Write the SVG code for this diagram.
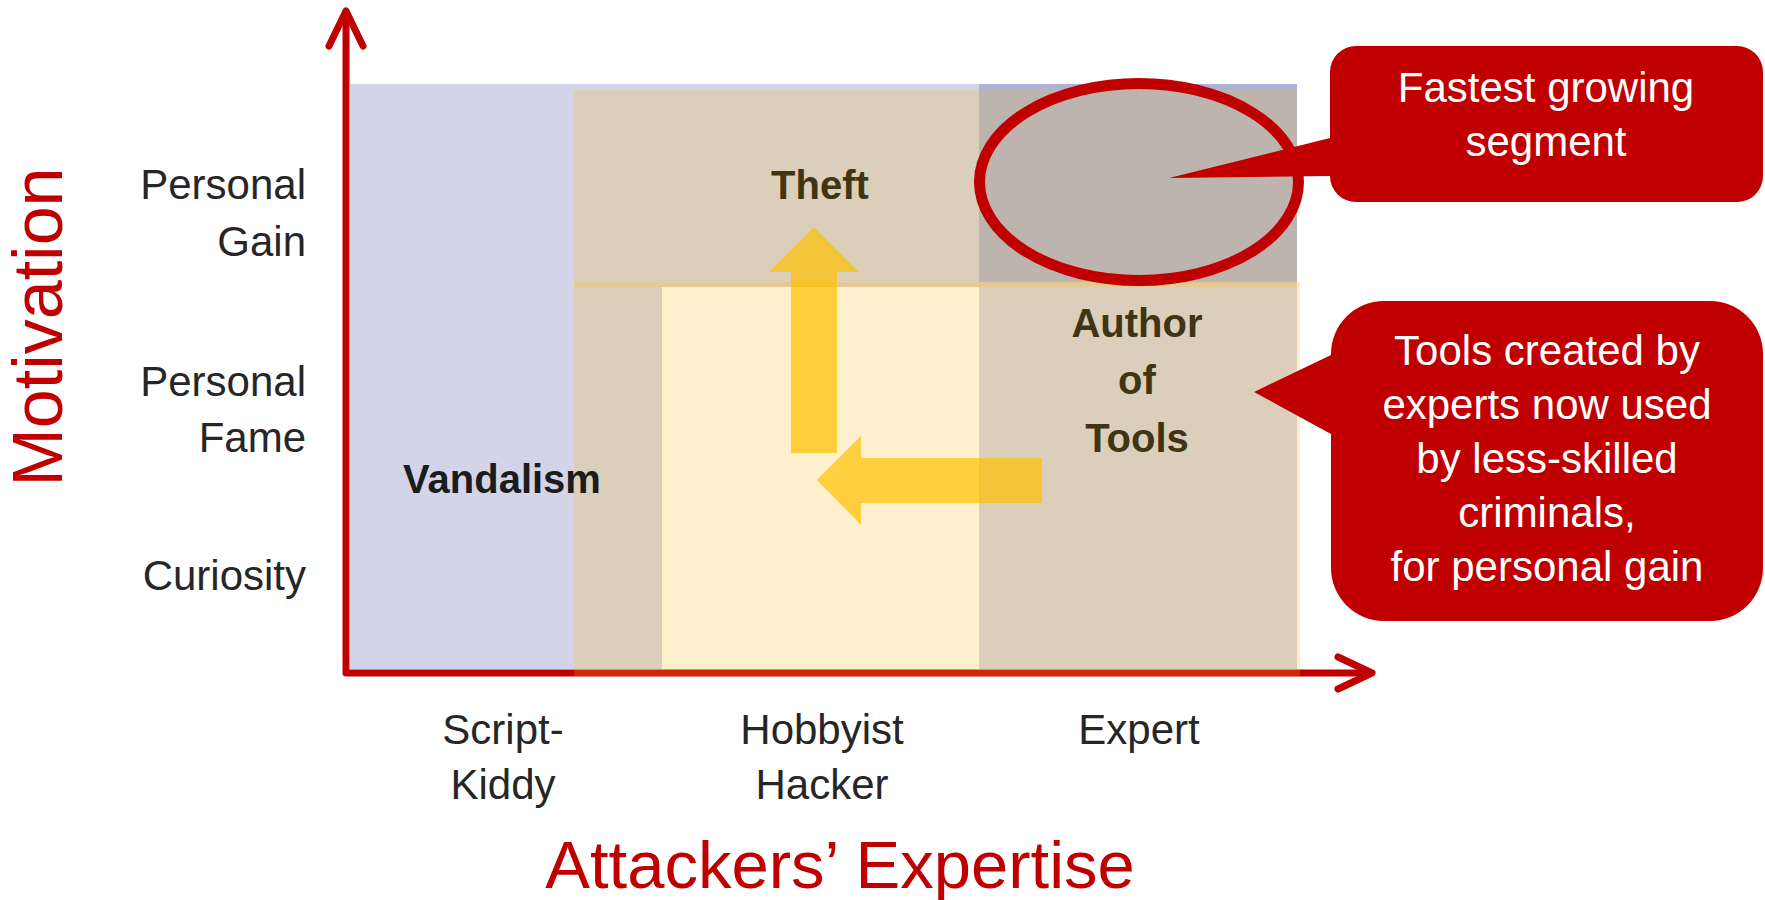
<svg xmlns="http://www.w3.org/2000/svg" width="1765" height="900" viewBox="0 0 1765 900">
<style>
.lbl{font-family:"Liberation Sans",Arial,sans-serif;font-size:42px;fill:#262626}
.r{text-anchor:end}
.c{text-anchor:middle}
.bold{font-family:"Liberation Sans",Arial,sans-serif;font-size:40px;font-weight:bold;fill:#3f3512;text-anchor:middle}
.title{font-family:"Liberation Sans",Arial,sans-serif;font-size:67px;fill:#c00000;text-anchor:middle}
.call{fill:#c00000}
.ctext{font-family:"Liberation Sans",Arial,sans-serif;font-size:42px;fill:#ffffff;text-anchor:middle}
.axis{fill:none;stroke:#c00000;stroke-width:7;stroke-linecap:round;stroke-linejoin:round}
.ovl{fill:#ffc000;fill-opacity:0.22}
.yarrow{fill:#ffc000;fill-opacity:0.7}
</style>
<rect width="1765" height="900" fill="#ffffff"/>
<g id="regions">
  <rect id="vandalism-region" x="350" y="84" width="947" height="585" fill="#d3d4e8"/>
  <rect id="expert-top" x="979" y="84" width="318" height="6" fill="#afb1d9"/>
  <rect id="theft-region" x="574" y="90" width="723" height="579" fill="#dbcebb"/>
  <rect id="overlap-region" x="979" y="90" width="318" height="192" fill="#bdb4ae"/>
  <rect id="hobbyist-region" x="662" y="287" width="317" height="382" fill="#fff0cd"/>
  <rect class="ovl" x="574" y="282" width="726" height="5"/>
  <rect class="ovl" x="1297" y="287" width="3" height="389"/>
</g>
<g id="axes">
  <path class="axis" d="M346,12 V673 H1369"/>
  <path class="axis" d="M329,46 L346,11 L363,46"/>
  <path class="axis" d="M1338,657 L1372,673 L1338,689"/>
  <rect class="ovl" x="574" y="669" width="726" height="7"/>
</g>
<g id="connectors">
  <path id="arrow-up" class="yarrow" d="M791,453 V272 H769 L814,227 L859,272 H837 V453 Z"/>
  <path id="arrow-left" class="yarrow" d="M1042,458 H861 V436 L817,480 L861,525 V503 H1042 Z"/>
</g>
<g id="fastest-ellipse">
  <ellipse cx="1139" cy="182" rx="159.5" ry="98.5" fill="none" stroke="#c00000" stroke-width="11"/>
</g>
<g id="y-labels">
  <text class="lbl r" x="306" y="199">Personal</text>
  <text class="lbl r" x="306" y="256">Gain</text>
  <text class="lbl r" x="306" y="396">Personal</text>
  <text class="lbl r" x="306" y="452">Fame</text>
  <text class="lbl r" x="306" y="590">Curiosity</text>
</g>
<g id="x-labels">
  <text class="lbl c" x="503" y="744">Script-</text>
  <text class="lbl c" x="503" y="799">Kiddy</text>
  <text class="lbl c" x="822" y="744">Hobbyist</text>
  <text class="lbl c" x="822" y="799">Hacker</text>
  <text class="lbl c" x="1139" y="744">Expert</text>
</g>
<g id="axis-titles">
  <text class="title" transform="translate(62,327) rotate(-90)" style="font-size:70px">Motivation</text>
  <text class="title" x="840" y="888" style="font-size:67px">Attackers’ Expertise</text>
</g>
<g id="theft"><text class="bold" x="820" y="199">Theft</text></g>
<g id="vandalism"><text class="bold" x="502" y="493" style="fill:#1c1c1c">Vandalism</text></g>
<g id="author-of-tools">
  <text class="bold" x="1137" y="337">Author</text>
  <text class="bold" x="1137" y="394">of</text>
  <text class="bold" x="1137" y="452">Tools</text>
</g>
<g id="callout-fastest">
  <path class="call" d="M1356,46 H1737 A26,26 0 0 1 1763,72 V176 A26,26 0 0 1 1737,202 H1356 A26,26 0 0 1 1330,176 L1169,178 L1330,138 V72 A26,26 0 0 1 1356,46 Z"/>
  <text class="ctext" x="1546" y="102">Fastest growing</text>
  <text class="ctext" x="1546" y="156">segment</text>
</g>
<g id="callout-tools">
  <path class="call" d="M1384,301 H1710 A53,53 0 0 1 1763,354 V568 A53,53 0 0 1 1710,621 H1384 A53,53 0 0 1 1331,568 V434 L1254,392 L1331,355 V354 A53,53 0 0 1 1384,301 Z"/>
  <text class="ctext" x="1547" y="365">Tools created by</text>
  <text class="ctext" x="1547" y="419">experts now used</text>
  <text class="ctext" x="1547" y="473">by less-skilled</text>
  <text class="ctext" x="1547" y="527">criminals,</text>
  <text class="ctext" x="1547" y="581">for personal gain</text>
</g>
</svg>
